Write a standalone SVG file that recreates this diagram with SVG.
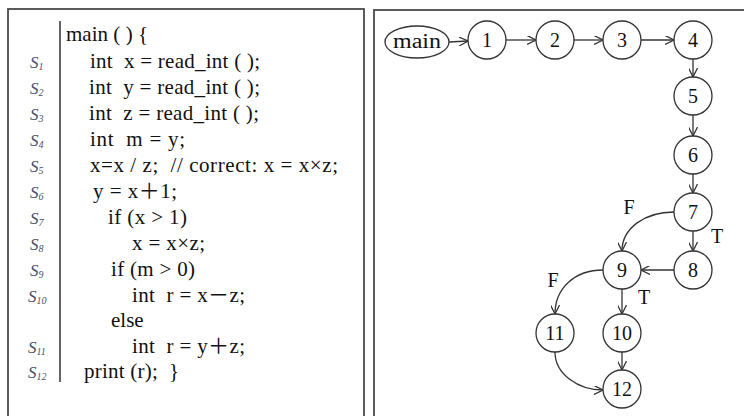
<svg xmlns="http://www.w3.org/2000/svg" width="744" height="416" viewBox="0 0 744 416">
<defs>
<style>
.panel{fill:#fff;stroke:#4a4a4a;stroke-width:1.8}
.code{font-family:"Liberation Serif","Noto Sans CJK SC",serif;font-size:21px;fill:#111;white-space:pre}
.lab{font-family:"Liberation Serif",serif;font-style:italic;font-size:17px;fill:#4a4f6a}
.sub{font-size:10px}
.node circle,.node ellipse{fill:#fff;stroke:#333;stroke-width:1.3}
.node text,.tf{font-family:"Liberation Serif",serif;font-size:20px;fill:#111;text-anchor:middle}
.edges path{fill:none;stroke:#333;stroke-width:1.3;marker-end:url(#arr)}
</style>
<marker id="arr" viewBox="0 0 10 10" refX="10" refY="5" markerWidth="9" markerHeight="9" markerUnits="userSpaceOnUse" orient="auto">
<path d="M0,0 L10,5 L0,10" fill="none" stroke="#333" stroke-width="1.4"/>
</marker>
</defs>
<rect width="744" height="416" fill="#fff"/>
<rect class="panel" x="8" y="9" width="356" height="420"/>
<rect class="panel" x="374" y="10" width="380" height="420"/>
<g id="code">
<line x1="60" y1="21" x2="60" y2="382" stroke="#555" stroke-width="1.8"/>
<text class="code" x="66" y="41" textLength="82" lengthAdjust="spacing">main ( ) {</text>
<text class="code" x="90" y="68" textLength="170" lengthAdjust="spacing">int  x = read_int ( );</text>
<text class="code" x="89" y="94" textLength="171" lengthAdjust="spacing">int  y = read_int ( );</text>
<text class="code" x="89" y="120" textLength="170" lengthAdjust="spacing">int  z = read_int ( );</text>
<text class="code" x="90" y="146" textLength="95" lengthAdjust="spacing">int  m = y;</text>
<text class="code" x="90" y="172" textLength="248" lengthAdjust="spacing">x=x / z;  // correct: x = x×z;</text>
<text class="code" x="93" y="198" textLength="84" lengthAdjust="spacing">y = x＋1;</text>
<text class="code" x="108" y="224" textLength="79" lengthAdjust="spacing">if (x &gt; 1)</text>
<text class="code" x="132" y="250" textLength="73" lengthAdjust="spacing">x = x×z;</text>
<text class="code" x="111" y="276" textLength="84" lengthAdjust="spacing">if (m &gt; 0)</text>
<text class="code" x="132" y="302" textLength="113" lengthAdjust="spacing">int  r = x－z;</text>
<text class="code" x="111" y="327">else</text>
<text class="code" x="132" y="353" textLength="113" lengthAdjust="spacing">int  r = y＋z;</text>
<text class="code" x="84" y="378" textLength="95" lengthAdjust="spacing">print (r);  }</text>
<text class="lab" x="30" y="68">S<tspan class="sub" dy="2">1</tspan></text>
<text class="lab" x="30" y="94">S<tspan class="sub" dy="2">2</tspan></text>
<text class="lab" x="30" y="120">S<tspan class="sub" dy="2">3</tspan></text>
<text class="lab" x="30" y="146">S<tspan class="sub" dy="2">4</tspan></text>
<text class="lab" x="30" y="172">S<tspan class="sub" dy="2">5</tspan></text>
<text class="lab" x="30" y="198">S<tspan class="sub" dy="2">6</tspan></text>
<text class="lab" x="30" y="224">S<tspan class="sub" dy="2">7</tspan></text>
<text class="lab" x="30" y="250">S<tspan class="sub" dy="2">8</tspan></text>
<text class="lab" x="30" y="276">S<tspan class="sub" dy="2">9</tspan></text>
<text class="lab" x="28" y="302">S<tspan class="sub" dy="2">10</tspan></text>
<text class="lab" x="28" y="353">S<tspan class="sub" dy="2">11</tspan></text>
<text class="lab" x="28" y="378">S<tspan class="sub" dy="2">12</tspan></text>
</g>
<g class="edges" id="connectors">
<path d="M449,42 L468,41"/>
<path d="M506,40 L536,40"/>
<path d="M574,40 L603,40"/>
<path d="M641,40 L674,40"/>
<path d="M693,59 L693,77"/>
<path d="M693,115 L693,136"/>
<path d="M693,174 L693,193"/>
<path d="M693,231 L693,251"/>
<path d="M674,270 L641,270"/>
<path d="M674,212 C645,212 622,228 622,251"/>
<path d="M622,289 L622,314"/>
<path d="M603,270 C575,270 555,288 555,314"/>
<path d="M622,352 L622,370"/>
<path d="M555,352 C555,374 578,390 603,390"/>
</g>
<g id="n-main" class="node"><ellipse cx="417" cy="42" rx="32" ry="16"/><text x="417" y="48" textLength="48" lengthAdjust="spacingAndGlyphs">main</text></g>
<g id="n1" class="node"><circle cx="487" cy="40" r="19"/><text x="487" y="47">1</text></g>
<g id="n2" class="node"><circle cx="555" cy="40" r="19"/><text x="555" y="47">2</text></g>
<g id="n3" class="node"><circle cx="622" cy="40" r="19"/><text x="622" y="47">3</text></g>
<g id="n4" class="node"><circle cx="693" cy="40" r="19"/><text x="693" y="47">4</text></g>
<g id="n5" class="node"><circle cx="693" cy="96" r="19"/><text x="693" y="103">5</text></g>
<g id="n6" class="node"><circle cx="693" cy="155" r="19"/><text x="693" y="162">6</text></g>
<g id="n7" class="node"><circle cx="693" cy="212" r="19"/><text x="693" y="219">7</text></g>
<g id="n8" class="node"><circle cx="693" cy="270" r="19"/><text x="693" y="277">8</text></g>
<g id="n9" class="node"><circle cx="622" cy="270" r="19"/><text x="622" y="277">9</text></g>
<g id="n10" class="node"><circle cx="622" cy="333" r="19"/><text x="622" y="340">10</text></g>
<g id="n11" class="node"><circle cx="555" cy="333" r="19"/><text x="555" y="340">11</text></g>
<g id="n12" class="node"><circle cx="622" cy="389" r="19"/><text x="622" y="396">12</text></g>
<g id="edge-labels">
<text class="tf" x="629" y="214">F</text>
<text class="tf" x="717" y="243">T</text>
<text class="tf" x="553" y="287">F</text>
<text class="tf" x="644" y="304">T</text>
</g>
</svg>
